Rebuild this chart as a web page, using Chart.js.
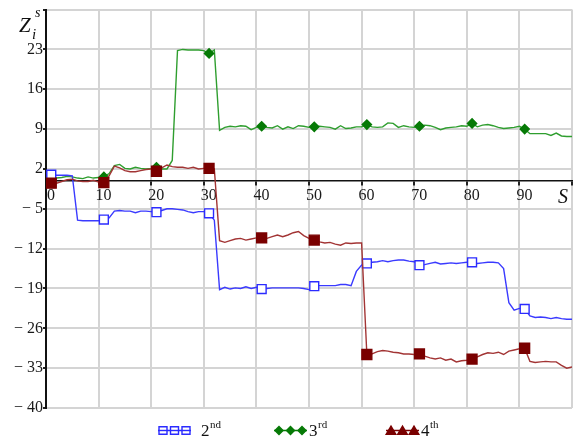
<!DOCTYPE html>
<html>
<head>
<meta charset="utf-8">
<script src="https://cdn.jsdelivr.net/npm/chart.js@4/dist/chart.umd.min.js"></script>
<style>
  html, body { margin: 0; padding: 0; background: #fff; }
  canvas { display: block; }
</style>
</head>
<body>
<canvas id="c" width="577" height="446"></canvas>
<script>
// step index s
const sSteps = [
  0, 1, 2, 3, 4, 5, 6, 7, 8, 9,
  10, 11, 12, 13, 14, 15, 16, 17, 18, 19,
  20, 21, 22, 23, 24, 25, 26, 27, 28, 29,
  30, 31, 32, 33, 34, 35, 36, 37, 38, 39,
  40, 41, 42, 43, 44, 45, 46, 47, 48, 49,
  50, 51, 52, 53, 54, 55, 56, 57, 58, 59,
  60, 61, 62, 63, 64, 65, 66, 67, 68, 69,
  70, 71, 72, 73, 74, 75, 76, 77, 78, 79,
  80, 81, 82, 83, 84, 85, 86, 87, 88, 89,
  90, 91, 92, 93, 94, 95, 96, 97, 98, 99,
  100
];

// Z_i^s for the 2nd component
const z2nd = [
  1.3, 1.0, 0.9, 0.9, 0.9, 0.8, -7.0, -7.1, -7.1, -7.1,
  -7.1, -6.9, -6.6, -5.4, -5.3, -5.4, -5.4, -5.7, -5.4, -5.4,
  -5.5, -5.6, -5.3, -5.0, -5.0, -5.1, -5.2, -5.5, -5.7, -5.5,
  -5.5, -5.8, -7.0, -19.2, -18.8, -19.1, -18.9, -19.0, -18.7, -19.0,
  -18.8, -19.1, -19.0, -18.9, -18.9, -18.9, -18.9, -18.9, -18.9, -19.0,
  -19.2, -18.6, -18.5, -18.5, -18.5, -18.5, -18.3, -18.3, -18.5, -16.0,
  -14.9, -14.6, -14.4, -14.3, -14.1, -14.3, -14.1, -14.0, -14.0, -14.2,
  -14.3, -14.9, -14.8, -14.6, -14.4, -14.7, -14.6, -14.5, -14.6, -14.5,
  -14.4, -14.4, -14.6, -14.5, -14.4, -14.4, -14.5, -15.5, -21.5, -22.8,
  -22.5, -22.6, -23.8, -24.1, -24.0, -24.1, -24.3, -24.1, -24.3, -24.4,
  -24.4
];

// Z_i^s for the 3rd component
const z3rd = [
  0.4, 0.4, 0.4, 0.5, 0.7, 0.6, 0.4, 0.3, 0.6, 0.4,
  0.5, 0.6, 1.2, 2.6, 2.8, 2.1, 2.0, 2.3, 2.1, 2.0,
  2.1, 2.3, 2.0, 2.0, 3.5, 22.8, 23.0, 22.9, 22.9, 22.9,
  22.8, 22.3, 22.9, 8.8, 9.3, 9.5, 9.4, 9.6, 9.5, 8.9,
  9.3, 9.5, 9.3, 9.2, 9.6, 9.0, 9.4, 9.1, 9.6, 9.5,
  9.3, 9.4, 9.5, 9.4, 9.3, 9.0, 9.6, 9.1, 9.2, 9.4,
  9.4, 9.8, 9.4, 9.3, 9.4, 10.1, 10.0, 9.3, 9.6, 9.4,
  9.3, 9.5, 9.7, 9.6, 9.3, 8.9, 9.2, 9.3, 9.4, 9.6,
  9.5, 10.0, 9.4, 9.7, 9.8, 9.6, 9.3, 9.1, 9.2, 9.3,
  9.5, 9.0, 8.2, 8.2, 8.2, 8.2, 7.9, 8.3, 7.8, 7.7,
  7.7
];

// Z_i^s for the 4th component
const z4th = [
  -1.0, -0.5, -0.5, -0.2, 0.1, 0.2, -0.1, -0.2, -0.2, 0.0,
  -0.3, -0.4, 0.8, 2.5, 2.2, 1.7, 1.5, 1.5, 1.7, 1.9,
  2.0, 1.6, 2.2, 2.7, 2.4, 2.3, 2.3, 2.1, 2.3, 2.0,
  2.1, 2.1, 2.0, -10.6, -10.9, -10.6, -10.3, -10.2, -10.5, -10.3,
  -10.1, -10.1, -10.2, -9.9, -9.6, -9.9, -9.6, -9.2, -9.0, -9.7,
  -10.2, -10.5, -10.8, -11.0, -10.9, -11.2, -11.4, -11.0, -11.1, -11.0,
  -11.0, -30.6, -30.5, -30.1, -29.9, -30.0, -30.2, -30.3, -30.5, -30.5,
  -30.6, -30.5, -30.9, -31.2, -31.4, -31.2, -31.6, -31.4, -31.9, -31.7,
  -31.6, -31.4, -31.0, -30.6, -30.3, -30.4, -30.2, -30.6, -30.0, -29.8,
  -29.6, -29.5, -31.8, -32.0, -31.9, -31.8, -31.9, -31.9, -32.5, -33.0,
  -32.8
];

const yTickValues = [-40, -33, -26, -19, -12, -5, 2, 9, 16, 23];
const xTickValues = [0, 10, 20, 30, 40, 50, 60, 70, 80, 90];
const legendNames = [['2', 'nd'], ['3', 'rd'], ['4', 'th']];

const SERIF = '"Liberation Serif", "Times New Roman", serif';

const toPoints = (ys) => sSteps.map((s, i) => ({ x: s, y: ys[i] }));
// a marker on every tenth step, starting from s = 1
const markEvery = (r) => (ctx) => (ctx.dataIndex % 10 === 1 ? r : 0);

const styles = [
  { line: '#3a3aff', mark: '#2b2bff', fill: '#ffffff', shape: 'rect', r: 6.3, legendShape: 'rect' },
  { line: '#2f9e2f', mark: '#067a06', fill: '#067a06', shape: 'rectRot', r: 4.6, legendShape: 'rectRot' },
  { line: '#a23434', mark: '#7a0000', fill: '#7a0000', shape: 'rect', r: 7.0, legendShape: 'triangle' }
];

function makeDataset(ys, st, order) {
  return {
    data: toPoints(ys),
    borderColor: st.line,
    borderWidth: 1.4,
    pointStyle: st.shape,
    pointRadius: markEvery(st.r),
    pointHoverRadius: 0,
    pointBackgroundColor: st.fill,
    pointBorderColor: st.mark,
    pointBorderWidth: 1.4,
    tension: 0,
    fill: false,
    order: order
  };
}

function drawShape(ctx, shape, x, y, st) {
  ctx.save();
  ctx.fillStyle = st.fill;
  ctx.strokeStyle = st.mark;
  ctx.lineWidth = 1.4;
  ctx.beginPath();
  if (shape === 'rect') {
    ctx.rect(x - 4, y - 3.8, 8, 7.6);
  } else if (shape === 'rectRot') {
    ctx.moveTo(x, y - 4); ctx.lineTo(x + 4, y); ctx.lineTo(x, y + 4); ctx.lineTo(x - 4, y);
    ctx.closePath();
  } else {
    ctx.moveTo(x, y - 4.3); ctx.lineTo(x + 4.8, y + 3.8); ctx.lineTo(x - 4.8, y + 3.8);
    ctx.closePath();
  }
  ctx.fill();
  ctx.stroke();
  if (shape === 'rect' && st.fill === '#ffffff') {
    ctx.beginPath();
    ctx.moveTo(x - 4, y); ctx.lineTo(x + 4, y);
    ctx.stroke();
  }
  ctx.restore();
}

const annotations = {
  id: 'annotations',
  afterDraw(chart) {
    const ctx = chart.ctx;
    ctx.save();
    ctx.fillStyle = '#111';
    ctx.textBaseline = 'alphabetic';
    // vertical axis title Z_i^s
    ctx.font = 'italic 21px ' + SERIF;
    ctx.fillText('Z', 19, 32);
    ctx.font = 'italic 14px ' + SERIF;
    ctx.fillText('s', 35, 17);
    ctx.font = 'italic 15px ' + SERIF;
    ctx.fillText('i', 32, 39);
    // horizontal axis title S
    ctx.font = 'italic 20px ' + SERIF;
    ctx.fillText('S', 558, 203);

    // legend
    const entries = [
      { x0: 158, tx: 201 },
      { x0: 274, tx: 309 },
      { x0: 386, tx: 421 }
    ];
    const ly = 430.5;
    entries.forEach((e, k) => {
      const st = styles[k];
      ctx.strokeStyle = st.mark;
      ctx.lineWidth = 1.4;
      ctx.beginPath();
      ctx.moveTo(e.x0, ly);
      ctx.lineTo(e.x0 + 33, ly);
      ctx.stroke();
      for (let j = 0; j < 3; j++) {
        drawShape(ctx, st.legendShape, e.x0 + 5 + j * 11.5, ly, st);
      }
      ctx.fillStyle = '#111';
      ctx.font = '17px ' + SERIF;
      ctx.fillText(legendNames[k][0], e.tx, 436);
      const w = ctx.measureText(legendNames[k][0]).width;
      ctx.font = '11px ' + SERIF;
      ctx.fillText(legendNames[k][1], e.tx + w + 0.5, 428);
    });
    ctx.restore();
  }
};

new Chart(document.getElementById('c'), {
  type: 'line',
  data: {
    datasets: [
      makeDataset(z4th, styles[2], 0),
      makeDataset(z2nd, styles[0], 1),
      makeDataset(z3rd, styles[1], 2)
    ]
  },
  options: {
    responsive: false,
    animation: false,
    events: [],
    layout: { padding: { left: 0, top: 8, right: 5, bottom: 38 } },
    plugins: { legend: { display: false }, tooltip: { enabled: false } },
    scales: {
      x: {
        type: 'linear',
        min: 0,
        max: 100,
        position: { y: 0 },
        grid: { color: '#d4d4d4', lineWidth: 2, tickLength: 4, tickColor: '#222' },
        border: { display: true, color: '#111', width: 1.5 },
        ticks: {
          stepSize: 10,
          autoSkip: false,
          maxRotation: 0,
          padding: 2,
          labelOffset: 5,
          color: '#1a1a1a',
          font: { family: SERIF, size: 16 },
          callback: (v) => (xTickValues.includes(v) ? String(v) : '')
        }
      },
      y: {
        type: 'linear',
        min: -40,
        max: 30,
        afterFit: (scale) => { scale.width = 46; },
        grid: { color: '#d4d4d4', lineWidth: 2, tickLength: 3, tickColor: '#222' },
        border: { display: true, color: '#111', width: 2 },
        ticks: {
          stepSize: 7,
          autoSkip: false,
          padding: 0,
          color: '#1a1a1a',
          font: { family: SERIF, size: 16 },
          callback: (v) => (yTickValues.includes(v) ? (v < 0 ? '\u2212 ' + Math.abs(v) : String(v)) : '')
        }
      }
    }
  },
  plugins: [annotations]
});
</script>
</body>
</html>
